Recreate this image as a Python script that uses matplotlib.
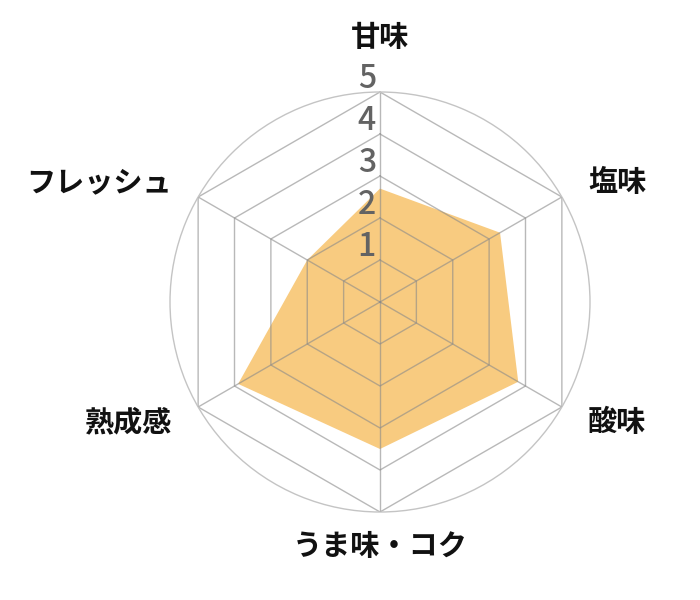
import numpy as np
import matplotlib
matplotlib.use("Agg")
import matplotlib.pyplot as plt
from matplotlib.transforms import offset_copy

plt.rcParams['font.family'] = ['Noto Sans CJK JP', 'DejaVu Sans']

categories = ["甘味", "塩味", "酸味", "うま味・コク", "熟成感", "フレッシュ"]
values = [2.7, 3.3, 3.8, 3.5, 3.9, 2.0]
tick_values = [1, 2, 3, 4, 5]
rmax = 5

fig = plt.figure(figsize=(7, 6), dpi=100)
ax = fig.add_axes([170/700, (600-302-210)/600, 420/700, 420/600], projection='polar')
ax.set_theta_zero_location('N')
ax.set_theta_direction(-1)
ax.set_ylim(0, rmax)
ax.grid(False)
ax.set_xticks([])
ax.set_yticks([])
ax.spines['polar'].set_color('#c4c4c4')
ax.spines['polar'].set_linewidth(1.0)

n = len(categories)
angles = np.arange(n) * 2 * np.pi / n
closed_a = np.append(angles, angles[0])
closed_v = np.append(values, values[0])

ax.fill(closed_a, closed_v, color='#F8CB80', zorder=1, lw=0)

for t in tick_values:
    ax.plot(closed_a, [t] * (n + 1), color='#8a8a8a', alpha=0.6, lw=1.0, zorder=2)
for a in angles:
    ax.plot([a, a], [0, rmax], color='#8a8a8a', alpha=0.6, lw=1.0, zorder=2)

trans = offset_copy(ax.transData, fig=fig, x=-4, y=0, units='dots')
for t in tick_values:
    ax.text(0, t + 0.32, str(t), transform=trans, ha='right', va='center',
            fontsize=23, fontweight='medium', color='#636363', zorder=3)

lab_kw = dict(fontsize=21, fontweight='bold', color='#111111')
for a, lab in zip(angles, categories):
    deg = np.degrees(a) % 360
    if deg < 1:
        ax.text(a, 5.95, lab, ha='center', va='bottom', **lab_kw)
    elif abs(deg - 180) < 1:
        ax.text(a, 5.45, lab, ha='center', va='top', **lab_kw)
    elif deg < 180:
        ax.text(a, 5.72, lab, ha='left', va='center', **lab_kw)
    else:
        ax.text(a, 5.72, lab, ha='right', va='center', **lab_kw)

fig.savefig('out.png', dpi=100, facecolor='white')
